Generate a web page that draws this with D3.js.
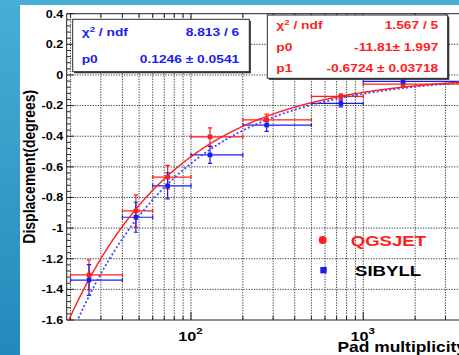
<!DOCTYPE html>
<html><head><meta charset="utf-8">
<script src="https://cdn.jsdelivr.net/npm/d3@7"></script>
<style>html,body{margin:0;padding:0;background:#fff;overflow:hidden}</style>
</head><body>
<svg id="chart" width="459" height="355"></svg>
<script>
// Multiplicity bins (edges) and mean pad multiplicity per bin
const binLo = [20, 40, 60, 100, 200, 500, 1000];
const binHi = [40, 60, 100, 200, 500, 1000, 5000];
const meanMult = [25.6, 47.9, 73.2, 129, 275, 741, 1702];

// Angular displacement (degrees) per bin for each hadronic model
const qgsjetDisp = [-1.306, -0.888, -0.667, -0.404, -0.293, -0.140, -0.060];
const qgsjetErr  = [0.098, 0.105, 0.077, 0.059, 0.037, 0.016, 0.020];
const sibyllDisp = [-1.339, -0.929, -0.724, -0.522, -0.327, -0.186, -0.042];
const sibyllErr  = [0.100, 0.098, 0.085, 0.055, 0.041, 0.022, 0.020];

// Fit results: QGSJET fitted with p0*x^p1, SIBYLL with the same shape, x scaled by (1+p0)
const qgsP0 = -11.81, qgsP1 = -0.6724;
const sibP0 = 0.1246;
const qgsStatNames  = ["χ2 / ndf", "p0", "p1"];
const qgsStatValues = ["1.567 / 5", "-11.81\u00b1 1.997", "-0.6724 \u00b1 0.03718"];
const sibStatNames  = ["χ2 / ndf", "p0"];
const sibStatValues = ["8.813 / 6", "0.1246 \u00b1 0.0541"];

const legendNames = ["QGSJET", "SIBYLL"];
const yTickValues = [0.4, 0.2, 0, -0.2, -0.4, -0.6, -0.8, -1, -1.2, -1.4, -1.6];
const xLabelDecades = [2, 3];

const FONT = "'Liberation Sans', Arial, Helvetica, sans-serif";
const RED = "#ff1e1e", BLUE = "#1c1cf0", FITBLUE = "#4646ff";
const W = 459, H = 355;
const frame = {left: 66.7, top: 13.7, bottom: 320};

const svg = d3.select("#chart");
const defs = svg.append("defs");

// slide background
const grad = defs.append("linearGradient").attr("id", "bg").attr("x1", 0).attr("y1", 0).attr("x2", 0).attr("y2", 1);
grad.append("stop").attr("offset", "0%").attr("stop-color", "#47aed5");
grad.append("stop").attr("offset", "100%").attr("stop-color", "#2588bc");
svg.append("rect").attr("width", W).attr("height", H).attr("fill", "url(#bg)");
svg.append("rect").attr("x", 20).attr("y", 5).attr("width", W - 20).attr("height", H - 5).attr("fill", "#fff");

defs.append("clipPath").attr("id", "plotClip").append("rect")
  .attr("x", frame.left).attr("y", frame.top)
  .attr("width", W - frame.left).attr("height", frame.bottom - frame.top);

const x = d3.scaleLog().domain([19, 5000]).range([frame.left, 483.7]);
const y = d3.scaleLinear().domain([-1.6, 0.4]).range([frame.bottom, frame.top]);

// text helper: glyphs stretched horizontally like the rest of the figure
function label(parent, px, py, str, size, anchor, color) {
  return parent.append("text")
    .attr("transform", `translate(${px},${py}) scale(1.2,1)`)
    .attr("text-anchor", anchor || "start")
    .attr("font-family", FONT).attr("font-weight", "bold")
    .attr("font-size", size).attr("fill", color || "#000")
    .text(str);
}

// grid
const grid = svg.append("g").attr("clip-path", "url(#plotClip)")
  .attr("stroke", "#333").attr("stroke-width", 1).attr("stroke-dasharray", "1.2,1.4");
const logTicks = x.ticks().filter(v => v > 19);
grid.selectAll("line.v").data(logTicks).join("line")
  .attr("x1", d => x(d)).attr("x2", d => x(d)).attr("y1", frame.top).attr("y2", frame.bottom);
grid.selectAll("line.h").data(yTickValues.filter(v => v > -1.6 && v < 0.4)).join("line").attr("class", "h")
  .attr("x1", frame.left).attr("x2", W).attr("y1", d => y(d)).attr("y2", d => y(d));

// frame and ticks
const axes = svg.append("g").attr("stroke", "#222").attr("stroke-width", 1).attr("fill", "none");
axes.append("path").attr("d", `M${W},${frame.top}H${frame.left}V${frame.bottom}H${W}`);
const isDecade = v => Math.abs(Math.log10(v) - Math.round(Math.log10(v))) < 1e-9;
logTicks.forEach(v => {
  const len = isDecade(v) ? 8 : 4;
  axes.append("line").attr("x1", x(v)).attr("x2", x(v)).attr("y1", frame.bottom).attr("y2", frame.bottom - len);
  axes.append("line").attr("x1", x(v)).attr("x2", x(v)).attr("y1", frame.top).attr("y2", frame.top + len);
});
d3.range(-1.6, 0.4001, 0.04).forEach((v, i) => {
  const len = i % 5 === 0 ? 7 : 4;
  axes.append("line").attr("x1", frame.left).attr("x2", frame.left + len).attr("y1", y(v)).attr("y2", y(v));
});

// y tick labels
yTickValues.forEach(v => {
  label(svg, 63.3, y(v) + 3.8, String(Math.round(v * 10) / 10), 10.5, "end");
});
// x tick labels 10^n
xLabelDecades.forEach(n => {
  const t = label(svg, x(Math.pow(10, n)) - 0.5, 340.5, "", 13.5, "middle");
  t.append("tspan").text("10");
  t.append("tspan").attr("dy", -7).attr("font-size", 9.5).text(n);
});
// axis titles
svg.append("text")
  .attr("transform", `translate(35,166.7) rotate(-90) scale(1,1.2)`)
  .attr("text-anchor", "middle").attr("font-family", FONT).attr("font-weight", "bold")
  .attr("font-size", 14).attr("fill", "#000").text("Displacement(degrees)");
label(svg, 337.5, 351.5, "Pad multiplicity", 14.5, "start");

// data
const plot = svg.append("g").attr("clip-path", "url(#plotClip)");
function drawSeries(vals, errs, color) {
  const g = plot.append("g").attr("stroke", color).attr("stroke-width", 1.2);
  vals.forEach((v, i) => {
    const cx = x(meanMult[i]), cy = y(v);
    const x0 = x(binLo[i]), x1 = x(binHi[i]);
    const yt = y(v + errs[i]), yb = y(v - errs[i]);
    g.append("line").attr("x1", x0).attr("x2", x1).attr("y1", cy).attr("y2", cy);
    g.append("line").attr("x1", x0).attr("x2", x0).attr("y1", cy - 2).attr("y2", cy + 2);
    g.append("line").attr("x1", x1).attr("x2", x1).attr("y1", cy - 2).attr("y2", cy + 2);
    g.append("line").attr("x1", cx).attr("x2", cx).attr("y1", yt).attr("y2", yb);
    g.append("line").attr("x1", cx - 2.2).attr("x2", cx + 2.2).attr("y1", yt).attr("y2", yt);
    g.append("line").attr("x1", cx - 2.2).attr("x2", cx + 2.2).attr("y1", yb).attr("y2", yb);
  });
  return g;
}
drawSeries(qgsjetDisp, qgsjetErr, RED);
drawSeries(sibyllDisp, sibyllErr, BLUE);

// fitted curves
const xs = d3.range(0, 301).map(i => 19 * Math.pow(5000 / 19, i / 300));
const qgsFit = v => qgsP0 * Math.pow(v, qgsP1);
const sibFit = v => qgsP0 * Math.pow(v / (1 + sibP0), qgsP1);
const line = f => d3.line().x(d => x(d)).y(d => y(f(d)))(xs);
plot.append("path").attr("d", line(sibFit)).attr("fill", "none")
  .attr("stroke", FITBLUE).attr("stroke-width", 1.8).attr("stroke-dasharray", "2,2.2");
plot.append("path").attr("d", line(qgsFit)).attr("fill", "none")
  .attr("stroke", RED).attr("stroke-width", 1.4);

// markers
function markers(vals, color) {
  plot.append("g").selectAll("rect").data(vals).join("rect")
    .attr("x", (d, i) => x(meanMult[i]) - 2.3).attr("y", d => y(d) - 2.3)
    .attr("width", 4.6).attr("height", 4.6).attr("fill", color);
}
markers(qgsjetDisp, RED);
markers(sibyllDisp, BLUE);

// stats boxes
function statBox(bx, by, bw, bh, names, values, color, baselines, rightX) {
  svg.append("rect").attr("x", bx + 1.6).attr("y", by + 1.6).attr("width", bw).attr("height", bh).attr("fill", "#3a3a3a");
  svg.append("rect").attr("x", bx).attr("y", by).attr("width", bw).attr("height", bh)
    .attr("fill", "#fff").attr("stroke", "#2a2a2a").attr("stroke-width", 1);
  names.forEach((n, i) => {
    const t = label(svg, bx + 9, baselines[i], "", 11.5, "start", color);
    if (n.startsWith("χ2")) {
      t.append("tspan").text("χ");
      t.append("tspan").attr("dy", -4.5).attr("font-size", 8).text("2");
      t.append("tspan").attr("dy", 4.5).text(n.slice(2));
    } else {
      t.text(n);
    }
    label(svg, rightX, baselines[i], values[i], 11.5, "end", color);
  });
}
statBox(72.7, 19.3, 176.6, 52.4, sibStatNames, sibStatValues, BLUE, [36.3, 63.3], 239.3);
statBox(267.3, 15, 180.4, 63.3, qgsStatNames, qgsStatValues, RED, [29, 51, 71.7], 438.3);

// legend
svg.append("circle").attr("cx", 322.7).attr("cy", 240).attr("r", 4).attr("fill", RED);
svg.append("rect").attr("x", 320.3).attr("y", 267).attr("width", 6.4).attr("height", 6.4).attr("fill", BLUE);
label(svg, 350.7, 245.7, legendNames[0], 15.5, "start", RED);
label(svg, 355, 275.7, legendNames[1], 15.5, "start", "#000");
</script>
</body></html>
